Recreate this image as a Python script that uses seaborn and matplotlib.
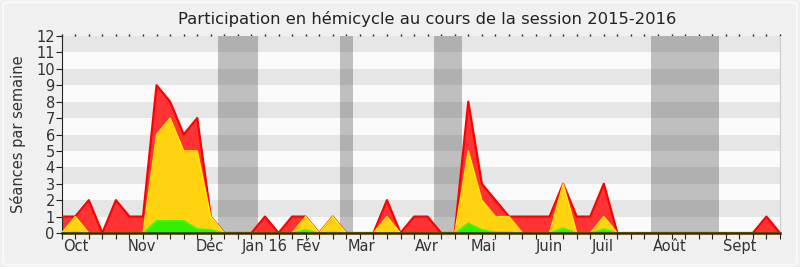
import matplotlib
matplotlib.use("Agg")
import matplotlib.pyplot as plt
import numpy as np
import pandas as pd
import seaborn as sns
from matplotlib.patches import FancyBboxPatch

# ---- data (one value per week, session 2015-2016) ----
total = [1, 1, 2, 0, 2, 1, 1, 9, 8, 6, 7, 1, 0, 0, 0, 1, 0, 1, 1, 0,
         1, 0, 0, 0, 2, 0, 1, 1, 0, 0, 8, 3, 2, 1, 1, 1, 1, 3, 1, 1,
         3, 0, 0, 0, 0, 0, 0, 0, 0, 0, 0, 0, 1, 0]
yellow = [0, 1, 0, 0, 0, 0, 0, 6, 7, 5, 5, 1, 0, 0, 0, 0, 0, 0, 1, 0,
          1, 0, 0, 0, 1, 0, 0, 0, 0, 0, 5, 2, 1, 1, 0, 0, 0, 3, 0, 0,
          1, 0, 0, 0, 0, 0, 0, 0, 0, 0, 0, 0, 0, 0]
green = [0, 0.05, 0, 0, 0, 0, 0, 0.75, 0.75, 0.75, 0.25, 0.2, 0, 0, 0, 0, 0, 0, 0.2, 0,
         0.05, 0, 0, 0, 0, 0, 0, 0, 0, 0, 0.6, 0.2, 0.05, 0.05, 0, 0, 0, 0.3, 0, 0,
         0.25, 0, 0, 0, 0, 0, 0, 0, 0, 0, 0, 0, 0, 0]
vacations = [(11.5, 14.5), (20.5, 21.5), (27.5, 29.5), (43.5, 48.5)]
month_labels = ["Oct", "Nov", "Déc", "Jan 16", "Fév", "Mar", "Avr", "Mai",
                "Juin", "Juil", "Août", "Sept"]
month_pos = [1.06, 5.92, 10.94, 15.0, 18.2, 22.14, 26.94, 31.1, 36.0, 39.9, 44.9, 50.0]
title = "Participation en hémicycle au cours de la session 2015-2016"
ylabel = "Séances par semaine"

weeks = np.arange(len(total))
df = pd.DataFrame({"week": weeks, "total": total, "yellow": yellow, "green": green})

sns.set_style("white")
plt.rcParams["font.family"] = ["DejaVu Sans"]

fig = plt.figure(figsize=(8, 2.67), dpi=100, facecolor="#f0f0f0")
fig.patches.append(FancyBboxPatch((0.004, 0.008), 0.992, 0.984, boxstyle="round,pad=0,rounding_size=0.01",
                                  transform=fig.transFigure, facecolor="none",
                                  edgecolor="#fbfbfb", lw=1.2))
ax = fig.add_axes([61.7 / 800, 1 - 233 / 267, (780 - 61.7) / 800, (233 - 36) / 267])
ax.set_facecolor("#fafafa")

for a, b in vacations:
    ax.axvspan(a, b, color="#bfbfbf", lw=0, zorder=0.5)
for k in range(1, 12, 2):
    ax.axhspan(k, k + 1, color="black", alpha=0.08, lw=0, zorder=1)

ax.fill_between(df["week"], df["total"], color="#ff3333", lw=0, zorder=2)
sns.lineplot(data=df, x="week", y="total", color="#ff0000", lw=1.6, ax=ax, zorder=3)
ax.fill_between(df["week"], df["yellow"], color="#ffd30f", lw=0, zorder=4)
sns.lineplot(data=df, x="week", y="yellow", color="#ffee00", lw=1.0, ax=ax, zorder=5)
ax.fill_between(df["week"], df["green"], color="#33ee00", lw=0, zorder=6)
sns.lineplot(data=df, x="week", y="green", color="#33ff00", lw=1.0, ax=ax, zorder=7)

ax.set_xlim(0, len(total) - 1)
ax.set_ylim(0, 12)
ax.set_yticks(range(0, 13))
ax.xaxis.remove_overlapping_locs = False
ax.set_xticks(weeks)
ax.set_xticklabels([])
ax.set_xticks(month_pos, minor=True)
ax.set_xticklabels(month_labels, minor=True)
ax.tick_params(axis="x", which="major", direction="out", length=4, width=0.8, color="#222222",
               bottom=True, top=False)
ax.tick_params(axis="x", which="minor", length=0, labelsize=10.5, labelcolor="#333333", pad=4)
ax.tick_params(axis="y", direction="out", length=4, width=0.8, color="#222222",
               labelsize=10.5, labelcolor="#333333", pad=1, left=True)
# small dot-like ticks along the top edge
sec = ax.secondary_xaxis("top")
sec.set_xticks(weeks)
sec.set_xticklabels([])
sec.tick_params(direction="out", length=1.5, width=1.0, color="#222222")
sec.spines["top"].set_visible(False)
ax.spines["top"].set_visible(False)
ax.spines["right"].set_color("#cccccc")
ax.spines["left"].set_color("#222222")
ax.spines["bottom"].set_color("#442200")
ax.spines["bottom"].set_zorder(10)
ax.spines["bottom"].set_linewidth(1.8)
ax.set_xlabel("")
ax.set_ylabel(ylabel, fontsize=10.5, color="#333333", labelpad=7)
fig.text(0.534, 0.93, title, ha="center", va="center", fontsize=11.8, color="#222222")

fig.savefig("out.png", dpi=100, facecolor=fig.get_facecolor())
